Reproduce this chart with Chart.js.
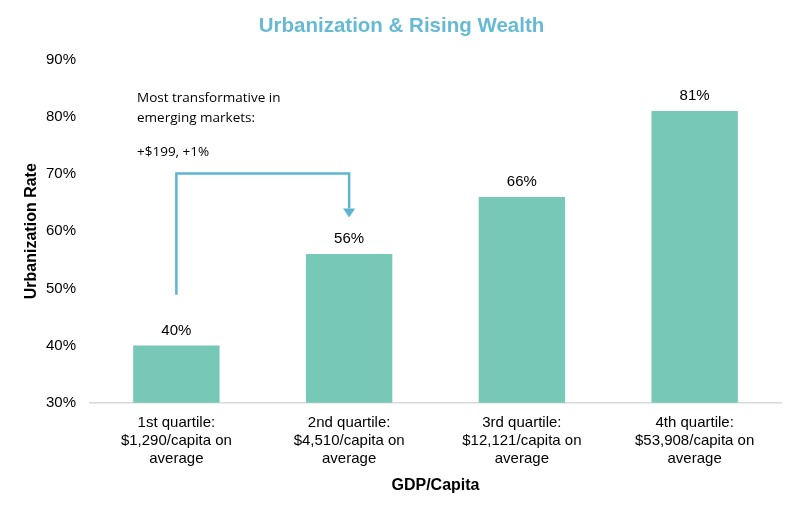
<!DOCTYPE html>
<html><head><meta charset="utf-8">
<script src="https://cdn.jsdelivr.net/npm/chart.js@4"></script>
<style>html,body{margin:0;padding:0;background:#fff}#wrap{width:800px;height:512px}</style>
</head><body><div id="wrap"><canvas id="c" width="800" height="512"></canvas></div>
<script>
const categories = [
  ["1st quartile:", "$1,290/capita on", "average"],
  ["2nd quartile:", "$4,510/capita on", "average"],
  ["3rd quartile:", "$12,121/capita on", "average"],
  ["4th quartile:", "$53,908/capita on", "average"]
];
const urbanization = [40, 56, 66, 81];
const yTicks = [30, 40, 50, 60, 70, 80, 90];
const noteLines = ["Most transformative in", "emerging markets:", "+$199, +1%"];
// arrow path: [category index, value %]
const arrowPath = [[0, 48.9], [0, 70.1], [1, 70.1], [1, 62.4]];

const barColor = '#77C8B7';
const accent = '#5DB6D1';

const overlay = {
  id: 'overlay',
  afterDatasetsDraw(chart) {
    const ctx = chart.ctx, xs = chart.scales.x, ys = chart.scales.y;
    const meta = chart.getDatasetMeta(0);
    ctx.save();
    ctx.fillStyle = '#000';
    ctx.font = '15px "Liberation Sans", Arial, sans-serif';
    ctx.textAlign = 'center';
    ctx.textBaseline = 'middle';
    meta.data.forEach((b, i) => {
      ctx.fillText(urbanization[i] + '%', b.x, b.y - 15);
    });
    // arrow
    const pts = arrowPath.map(p => [xs.getPixelForValue(p[0]), ys.getPixelForValue(p[1])]);
    ctx.strokeStyle = accent; ctx.fillStyle = accent; ctx.lineWidth = 2.5;
    ctx.lineJoin = 'miter';
    ctx.beginPath();
    const last = pts[pts.length - 1];
    const end = [last[0], last[1] - 9];
    ctx.moveTo(pts[0][0], pts[0][1]);
    for (let i = 1; i < pts.length - 1; i++) ctx.lineTo(pts[i][0], pts[i][1]);
    ctx.lineTo(end[0], end[1]);
    ctx.stroke();
    ctx.beginPath();
    ctx.moveTo(last[0] - 6, end[1]);
    ctx.lineTo(last[0] + 6, end[1]);
    ctx.lineTo(last[0], last[1]);
    ctx.closePath(); ctx.fill();
    // note text
    ctx.fillStyle = '#000';
    ctx.font = '13.5px "Open Sans", "Noto Sans", sans-serif';
    ctx.textAlign = 'left';
    ctx.textBaseline = 'middle';
    const tx = chart.chartArea.left + 47;
    const offs = [0, 20, 54];
    noteLines.forEach((l, i) => { ctx.fillText(l, tx, 98 + offs[i]); });
    ctx.restore();
  }
};

const F = '"Liberation Sans", Arial, sans-serif';
new Chart(document.getElementById('c'), {
  type: 'bar',
  data: {
    labels: categories,
    datasets: [{ data: urbanization, backgroundColor: barColor, barPercentage: 0.5, categoryPercentage: 1.0 }]
  },
  options: {
    responsive: false, animation: false,
    devicePixelRatio: 1,
    layout: { padding: { left: 22, right: 19, top: 0, bottom: 15 } },
    plugins: {
      legend: { display: false }, tooltip: { enabled: false },
      title: {
        display: true, text: 'Urbanization & Rising Wealth', color: '#67BAD4',
        font: { family: F, size: 20.5, weight: 'bold' },
        padding: { top: 14, bottom: 21 }
      }
    },
    scales: {
      x: {
        afterFit(s) { s.height = s.height - 11; },
        grid: { display: false, drawTicks: false },
        border: { display: true, color: '#D9D9D9', width: 1.5 },
        ticks: { color: '#000', font: { family: F, size: 15, lineHeight: 1.2 }, padding: 11, maxRotation: 0 },
        title: { display: true, text: 'GDP/Capita', color: '#000', font: { family: F, size: 16, weight: 'bold' }, padding: { top: 8, bottom: 2 } }
      },
      y: {
        min: 30, max: 90,
        afterFit(s) { s.width = 68; },
        afterBuildTicks(s) { s.ticks = yTicks.map(v => ({ value: v })); },
        grid: { display: false, drawTicks: false },
        border: { display: false },
        ticks: { color: '#000', font: { family: F, size: 15 }, padding: 14, callback: v => v + '%' },
        title: { display: true, text: 'Urbanization Rate', color: '#000', font: { family: F, size: 16, weight: 'bold' }, padding: { top: 0, bottom: 0 } }
      }
    }
  },
  plugins: [overlay]
});
</script></body></html>
